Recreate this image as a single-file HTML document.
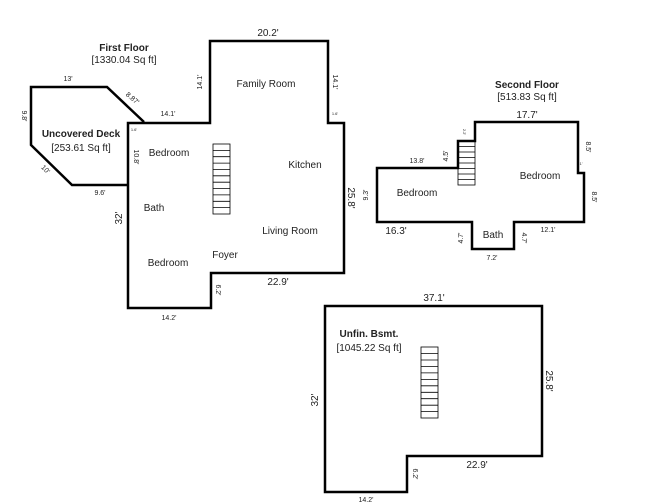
<!DOCTYPE html>
<html><head><meta charset="utf-8"><style>
html,body{margin:0;padding:0;background:#fff;width:650px;height:504px;overflow:hidden}
text{font-family:"Liberation Sans","DejaVu Sans",sans-serif;fill:#222}
.b{font-weight:bold}
</style></head><body>
<svg width="650" height="504" viewBox="0 0 650 504" xmlns="http://www.w3.org/2000/svg">
<g fill="none" stroke="#000" stroke-width="2.5" stroke-linejoin="miter">
<polyline points="128,185 72,185 31,145 31,87 107,87 144,122"/>
<polygon points="210,41 328,41 328,123 344,123 344,273 211,273 211,308 128,308 128,123 210,123"/>
<polygon points="475,122 578,122 578,173 584,173 584,222 514,222 514,249 472,249 472,222 377,222 377,168 458,168 458,141 475,141"/>
<polygon points="325,306 542,306 542,456 407,456 407,492 325,492"/>
</g>
<g fill="none" stroke="#000" stroke-width="0.8">
<rect x="213" y="144" width="17" height="70"/>
<path d="M213,150.4h17M213,156.7h17M213,163.1h17M213,169.5h17M213,175.8h17M213,182.2h17M213,188.6h17M213,194.9h17M213,201.3h17M213,207.6h17"/>
<rect x="458" y="141" width="17" height="44"/>
<path d="M458,146.5h17M458,152h17M458,157.5h17M458,163h17M458,168.5h17M458,174h17M458,179.5h17"/>
<rect x="421" y="347" width="17" height="71"/>
<path d="M421,353.5h17M421,360h17M421,366.4h17M421,372.9h17M421,379.4h17M421,385.8h17M421,392.3h17M421,398.7h17M421,405.2h17M421,411.6h17"/>
</g>
<text x="124" y="51" font-size="10" class="b" text-anchor="middle">First Floor</text>
<text x="124" y="63" font-size="10" text-anchor="middle">[1330.04 Sq ft]</text>
<text x="81" y="137" font-size="10" class="b" text-anchor="middle">Uncovered Deck</text>
<text x="81" y="151" font-size="10" text-anchor="middle">[253.61 Sq ft]</text>
<text x="68" y="81" font-size="7" text-anchor="middle">13'</text>
<text x="131" y="100" font-size="7" text-anchor="middle" transform="rotate(40 131 100)">8.87'</text>
<text x="22" y="116" font-size="7" text-anchor="middle" transform="rotate(90 22 116)">9.8'</text>
<text x="44" y="171" font-size="7" text-anchor="middle" transform="rotate(45 44 171)">10'</text>
<text x="100" y="195" font-size="7" text-anchor="middle">9.6'</text>
<text x="168" y="116" font-size="7" text-anchor="middle">14.1'</text>
<text x="268" y="36" font-size="10" text-anchor="middle">20.2'</text>
<text x="202" y="82" font-size="7" text-anchor="middle" transform="rotate(-90 202 82)">14.1'</text>
<text x="333" y="82" font-size="7" text-anchor="middle" transform="rotate(90 333 82)">14.1'</text>
<text x="335" y="115" font-size="4" text-anchor="middle">1.6'</text>
<text x="134" y="131" font-size="4" text-anchor="middle">1.6'</text>
<text x="134" y="157" font-size="7" text-anchor="middle" transform="rotate(90 134 157)">10.8'</text>
<text x="122" y="218" font-size="10" text-anchor="middle" transform="rotate(-90 122 218)">32'</text>
<text x="348" y="198" font-size="10" text-anchor="middle" transform="rotate(90 348 198)">25.8'</text>
<text x="278" y="285" font-size="10" text-anchor="middle">22.9'</text>
<text x="216" y="290" font-size="7" text-anchor="middle" transform="rotate(90 216 290)">6.2'</text>
<text x="169" y="320" font-size="7" text-anchor="middle">14.2'</text>
<text x="266" y="87" font-size="10" text-anchor="middle">Family Room</text>
<text x="169" y="156" font-size="10" text-anchor="middle">Bedroom</text>
<text x="305" y="168" font-size="10" text-anchor="middle">Kitchen</text>
<text x="154" y="211" font-size="10" text-anchor="middle">Bath</text>
<text x="290" y="234" font-size="10" text-anchor="middle">Living Room</text>
<text x="225" y="258" font-size="10" text-anchor="middle">Foyer</text>
<text x="168" y="266" font-size="10" text-anchor="middle">Bedroom</text>
<text x="527" y="88" font-size="10" class="b" text-anchor="middle">Second Floor</text>
<text x="527" y="100" font-size="10" text-anchor="middle">[513.83 Sq ft]</text>
<text x="527" y="118" font-size="10" text-anchor="middle">17.7'</text>
<text x="463" y="132" font-size="4" text-anchor="middle" transform="rotate(90 463 132)">2.2'</text>
<text x="448" y="156" font-size="7" text-anchor="middle" transform="rotate(-90 448 156)">4.5'</text>
<text x="417" y="163" font-size="7" text-anchor="middle">13.8'</text>
<text x="368" y="195" font-size="7" text-anchor="middle" transform="rotate(-90 368 195)">9.3'</text>
<text x="417" y="196" font-size="10" text-anchor="middle">Bedroom</text>
<text x="540" y="179" font-size="10" text-anchor="middle">Bedroom</text>
<text x="586" y="147" font-size="7" text-anchor="middle" transform="rotate(90 586 147)">8.5'</text>
<text x="581" y="165" font-size="4" text-anchor="middle">1'</text>
<text x="592" y="197" font-size="7" text-anchor="middle" transform="rotate(90 592 197)">8.5'</text>
<text x="396" y="234" font-size="10" text-anchor="middle">16.3'</text>
<text x="463" y="238" font-size="7" text-anchor="middle" transform="rotate(-90 463 238)">4.7'</text>
<text x="493" y="238" font-size="10" text-anchor="middle">Bath</text>
<text x="522" y="238" font-size="7" text-anchor="middle" transform="rotate(90 522 238)">4.7'</text>
<text x="548" y="232" font-size="7" text-anchor="middle">12.1'</text>
<text x="492" y="260" font-size="7" text-anchor="middle">7.2'</text>
<text x="434" y="301" font-size="10" text-anchor="middle">37.1'</text>
<text x="369" y="337" font-size="10" class="b" text-anchor="middle">Unfin. Bsmt.</text>
<text x="369" y="351" font-size="10" text-anchor="middle">[1045.22 Sq ft]</text>
<text x="318" y="400" font-size="10" text-anchor="middle" transform="rotate(-90 318 400)">32'</text>
<text x="546" y="381" font-size="10" text-anchor="middle" transform="rotate(90 546 381)">25.8'</text>
<text x="477" y="468" font-size="10" text-anchor="middle">22.9'</text>
<text x="413" y="474" font-size="7" text-anchor="middle" transform="rotate(90 413 474)">6.2'</text>
<text x="366" y="502" font-size="7" text-anchor="middle">14.2'</text>
</svg>
</body></html>
